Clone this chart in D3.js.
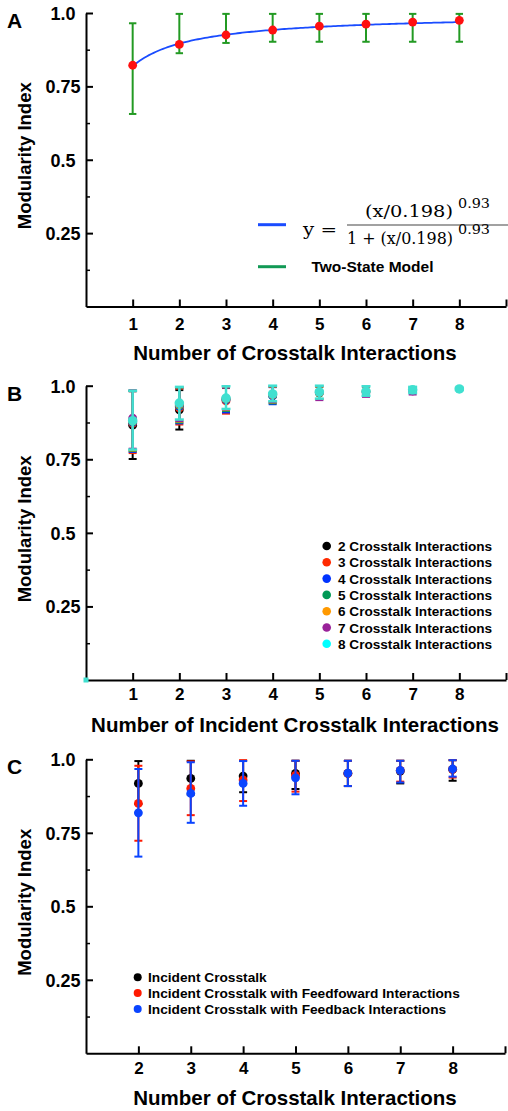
<!DOCTYPE html>
<html>
<head>
<meta charset="utf-8">
<script src="https://cdn.jsdelivr.net/npm/d3@7"></script>
<style>
  body { margin: 0; background: #fff; }
  svg { display: block; }
  text { font-family: "Liberation Sans", Arial, Helvetica, sans-serif; font-weight: bold; }
</style>
</head>
<body>
<script>
// ---- data ----
// panel A
const xA = [1, 2, 3, 4, 5, 6, 7, 8]
const meanA = [0.822, 0.893, 0.925, 0.942, 0.955, 0.962, 0.969, 0.975]
const lowA  = [0.656, 0.863, 0.898, 0.902, 0.902, 0.902, 0.902, 0.902]
const highA = [0.965, 0.997, 0.997, 0.997, 0.997, 0.997, 0.997, 0.997]
// fitted curve y = (x/k)^n / (1 + (x/k)^n)
const fitK = 0.198
const fitN = 0.93

// panel B: series "n Crosstalk Interactions" has points at x = 1..n
const seriesB = ["2 Crosstalk Interactions", "3 Crosstalk Interactions", "4 Crosstalk Interactions",
  "5 Crosstalk Interactions", "6 Crosstalk Interactions", "7 Crosstalk Interactions", "8 Crosstalk Interactions"]
const meanB = [
  [0.866, 0.918],
  [0.872, 0.925, 0.948],
  [0.875, 0.930, 0.952, 0.965],
  [0.878, 0.933, 0.954, 0.967, 0.975],
  [0.880, 0.936, 0.955, 0.969, 0.976, 0.980],
  [0.890, 0.938, 0.956, 0.970, 0.977, 0.979, 0.982],
  [0.881, 0.941, 0.958, 0.972, 0.979, 0.981, 0.986, 0.989]
]
const lowB = [
  [0.751, 0.851],
  [0.771, 0.868, 0.905],
  [0.775, 0.872, 0.909, 0.937],
  [0.778, 0.875, 0.914, 0.940, 0.954],
  [0.780, 0.878, 0.917, 0.943, 0.955, 0.965],
  [0.786, 0.880, 0.919, 0.944, 0.951, 0.962, 0.970],
  [0.783, 0.885, 0.921, 0.947, 0.956, 0.966, 0.975, 0.985]
]
const highB = [
  [0.981, 0.985],
  [0.982, 0.990, 0.992],
  [0.983, 0.992, 0.994, 0.995],
  [0.983, 0.993, 0.995, 0.996, 0.996],
  [0.983, 0.994, 0.996, 0.997, 0.997, 0.996],
  [0.984, 0.995, 0.997, 0.998, 0.998, 0.997, 0.994],
  [0.983, 0.996, 0.998, 1.000, 1.000, 0.998, 0.996, 0.993]
]
const colorB  = ["#000000", "#ff2a00", "#0033ff", "#009955", "#ff9900", "#992299", "#40e0d0"]
const legendColorB = ["#000000", "#ff2a00", "#0033ff", "#009955", "#ff9900", "#992299", "#00ffff"]

// panel C
const xC = [2, 3, 4, 5, 6, 7, 8]
const seriesC = ["Incident Crosstalk", "Incident Crosstalk with Feedfoward Interactions", "Incident Crosstalk with Feedback Interactions"]
const meanC = [
  [0.918, 0.935, 0.943, 0.952, 0.952, 0.960, 0.966],
  [0.850, 0.901, 0.930, 0.945, 0.952, 0.962, 0.966],
  [0.818, 0.884, 0.918, 0.937, 0.953, 0.962, 0.967]
]
const lowC = [
  [0.848, 0.880, 0.888, 0.899, 0.909, 0.918, 0.927],
  [0.723, 0.810, 0.858, 0.890, 0.909, 0.924, 0.938],
  [0.669, 0.784, 0.842, 0.881, 0.909, 0.921, 0.941]
]
const highC = [
  [0.994, 0.995, 0.995, 0.995, 0.995, 0.995, 0.997],
  [0.978, 0.993, 0.997, 0.995, 0.995, 0.995, 0.997],
  [0.967, 0.990, 0.994, 0.995, 0.995, 0.995, 0.997]
]
const colorC = ["#000000", "#ff1a00", "#0a44ff"]

const yTicks = [0.25, 0.5, 0.75, 1.0]
const yTickLabels = ["0.25", "0.5", "0.75", "1.0"]
const yMinor = [0.125, 0.375, 0.625, 0.875]

// ---- canvas ----
const width = 508, height = 1111
const svg = d3.select("body").append("svg")
  .attr("width", width)
  .attr("height", height)

function panel(o) {
  let x = d3.scaleLinear().domain(o.xDomain).range([86, o.xRight])
  let y = d3.scaleLinear().domain([0, 1]).range([o.yBottom, o.yTop])
  let g = svg.append("g")

  // minor y ticks
  g.append("g")
    .attr("transform", "translate(86,0)")
    .call(d3.axisLeft(y).tickValues(yMinor).tickSize(-4).tickSizeOuter(0).tickFormat(""))
    .call(a => a.select(".domain").remove())
    .selectAll("line").attr("stroke-width", 1.5)

  let ya = g.append("g")
    .attr("transform", "translate(86,0)")
    .call(d3.axisLeft(y).tickValues(yTicks).tickSize(-7).tickSizeOuter(0)
      .tickFormat((d, i) => yTickLabels[i]))
  ya.select(".domain").attr("stroke-width", 2)
  ya.selectAll("line").attr("stroke-width", 2)
  ya.selectAll("text")
    .attr("x", -23).attr("text-anchor", "middle").attr("dy", "0.36em")
    .style("font-size", "18px").attr("fill", "#000")

  let xa = g.append("g")
    .attr("transform", `translate(0,${o.yBottom})`)
    .call(d3.axisBottom(x).tickValues(o.xTicks).tickSize(-7).tickSizeOuter(0)
      .tickFormat(d => d >= 9 ? "" : d))
  xa.select(".domain").attr("stroke-width", 2)
  xa.selectAll("line").attr("stroke-width", 2)
  xa.selectAll("text")
    .attr("y", 0).attr("dy", o.tickDy)
    .style("font-size", "17px").attr("fill", "#000")

  g.append("text")
    .attr("x", 295).attr("y", o.yBottom + o.titleDy)
    .attr("text-anchor", "middle")
    .style("font-size", "20.5px")
    .text(o.xTitle)

  g.append("text")
    .attr("transform", `translate(31,${(o.yBottom + o.yTop) / 2 - 4}) rotate(-90)`)
    .attr("text-anchor", "middle")
    .style("font-size", "18.5px")
    .text("Modularity Index")

  g.append("text")
    .attr("x", 7).attr("y", o.yTop + 15)
    .style("font-size", "21px")
    .text(o.letter)

  return { g, x, y }
}

function errorBars(g, x, y, xs, lo, hi, color, w, cap) {
  let bars = g.append("g").selectAll("g")
    .data(xs.map((d, i) => ({ x: d, lo: lo[i], hi: hi[i] })))
    .enter().append("g")
    .attr("stroke", color).attr("stroke-width", w)
  bars.append("line")
    .attr("x1", d => x(d.x)).attr("x2", d => x(d.x))
    .attr("y1", d => y(d.lo)).attr("y2", d => y(d.hi))
  bars.append("line")
    .attr("x1", d => x(d.x) - cap).attr("x2", d => x(d.x) + cap)
    .attr("y1", d => y(d.lo)).attr("y2", d => y(d.lo))
  bars.append("line")
    .attr("x1", d => x(d.x) - cap).attr("x2", d => x(d.x) + cap)
    .attr("y1", d => y(d.hi)).attr("y2", d => y(d.hi))
}

function points(g, x, y, xs, vals, color, r) {
  g.append("g").selectAll("circle")
    .data(xs.map((d, i) => ({ x: d, v: vals[i] })))
    .enter().append("circle")
    .attr("cx", d => x(d.x)).attr("cy", d => y(d.v))
    .attr("r", r).attr("fill", color)
}

// ---- panel A ----
let A = panel({ xDomain: [0, 9], xRight: 506, yTop: 13, yBottom: 306.5,
  xTicks: [1, 2, 3, 4, 5, 6, 7, 8, 9], tickDy: 23, titleDy: 53,
  xTitle: "Number of Crosstalk Interactions", letter: "A" })

errorBars(A.g, A.x, A.y, xA, lowA, highA, "#239a23", 2, 3.7)
let fitX = d3.range(1, 8.001, 0.05)
A.g.append("path")
  .datum(fitX)
  .attr("fill", "none").attr("stroke", "#1a4cff").attr("stroke-width", 1.8)
  .attr("d", d3.line().x(d => A.x(d)).y(d => {
    let t = Math.pow(d / fitK, fitN)
    return A.y(t / (1 + t))
  }))
points(A.g, A.x, A.y, xA, meanA, "#ff1010", 4.4)

// legend A
let lgA = A.g.append("g")
lgA.append("line").attr("x1", 258).attr("x2", 286).attr("y1", 224.7).attr("y2", 224.7)
  .attr("stroke", "#1a4cff").attr("stroke-width", 3)
lgA.append("line").attr("x1", 258).attr("x2", 286).attr("y1", 266.7).attr("y2", 266.7)
  .attr("stroke", "#119955").attr("stroke-width", 3)
lgA.append("text").attr("x", 311.5).attr("y", 272).style("font-size", "15.5px")
  .text("Two-State Model")

// formula, serif like the TeX label; base and exponent share one text element
let serif = "'DejaVu Serif', 'Liberation Serif', serif"
function mathText(parts) {
  let t = lgA.append("text")
    .style("font-family", serif).style("font-weight", "normal").attr("fill", "#000")
  parts.forEach(p => {
    t.append("tspan").attr("x", p[1]).attr("y", p[2])
      .attr("textLength", p[4]).attr("lengthAdjust", "spacingAndGlyphs")
      .style("font-size", p[3] + "px")
      .text(p[0])
  })
}
mathText([["y =", 303, 235, 17, 34]])
mathText([["(x/0.198)", 365, 216.5, 17, 88], ["0.93", 458, 207.5, 12, 32]])
lgA.append("line").attr("x1", 347).attr("x2", 508).attr("y1", 225).attr("y2", 225)
  .attr("stroke", "#444").attr("stroke-width", 1.2)
mathText([["1 + (x/0.198)", 347, 244, 17, 106], ["0.93", 458, 234, 12, 32]])

// ---- panel B ----
let B = panel({ xDomain: [0, 9], xRight: 506, yTop: 385.7, yBottom: 680,
  xTicks: [1, 2, 3, 4, 5, 6, 7, 8, 9], tickDy: 20, titleDy: 51.5,
  xTitle: "Number of Incident Crosstalk Interactions", letter: "B" })

meanB.forEach((m, s) => {
  let xs = m.map((d, i) => i + 1)
  let last = s === meanB.length - 1
  errorBars(B.g, B.x, B.y, xs, lowB[s], highB[s], colorB[s], last ? 2.5 : 2, last ? 4.5 : 4)
  points(B.g, B.x, B.y, xs, m, colorB[s], last ? 4.8 : 4.4)
})
// stray marker of the last series at the origin
B.g.append("rect")
  .attr("x", B.x(0) - 2.5).attr("y", B.y(0) - 2.5).attr("width", 5).attr("height", 5)
  .attr("fill", colorB[6])

let lgB = B.g.append("g").selectAll("g")
  .data(seriesB).enter().append("g")
  .attr("transform", (d, i) => `translate(0,${546 + i * 16.3})`)
lgB.append("circle").attr("cx", 326.7).attr("cy", 0).attr("r", 4.3)
  .attr("fill", (d, i) => legendColorB[i])
lgB.append("text").attr("x", 338).attr("y", 5).style("font-size", "13.6px").text(d => d)

// ---- panel C ----
let C = panel({ xDomain: [1, 9], xRight: 505, yTop: 759.3, yBottom: 1053.3,
  xTicks: [2, 3, 4, 5, 6, 7, 8, 9], tickDy: 20.5, titleDy: 52,
  xTitle: "Number of Crosstalk Interactions", letter: "C" })

meanC.forEach((m, s) => {
  errorBars(C.g, C.x, C.y, xC, lowC[s], highC[s], colorC[s], 2, 4)
  points(C.g, C.x, C.y, xC, m, colorC[s], 4.4)
})

let lgC = C.g.append("g").selectAll("g")
  .data(seriesC).enter().append("g")
  .attr("transform", (d, i) => `translate(0,${977.3 + i * 15.8})`)
lgC.append("circle").attr("cx", 137.7).attr("cy", 0).attr("r", 4)
  .attr("fill", (d, i) => colorC[i])
lgC.append("text").attr("x", 148).attr("y", 5).style("font-size", "13.7px").text(d => d)
</script>
</body>
</html>
